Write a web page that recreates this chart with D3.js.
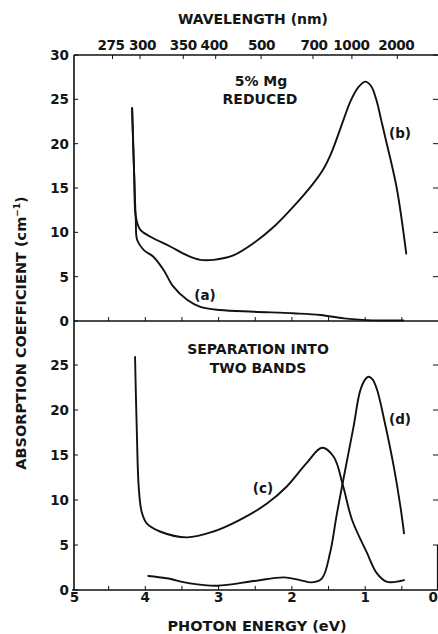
<!DOCTYPE html>
<html><head><meta charset="utf-8">
<script src="https://cdn.jsdelivr.net/npm/d3@7"></script>
<style>
html,body{margin:0;padding:0;background:#fff;}
svg text{font-family:"DejaVu Sans","Liberation Sans",Arial,sans-serif;font-weight:bold;fill:#151515;}
</style></head>
<body><svg id="c" width="438" height="634"></svg>
<script>
// ---- data (photon energy eV, absorption coefficient cm^-1) ----
const curveA_E = [4.18,4.15,4.13,4.11,4.02,3.89,3.75,3.62,3.43,3.25,2.98,2.52,1.98,1.61,1.29,0.98,0.48];
const curveA_V = [24.0,16.0,11.5,9.1,8.0,7.25,5.75,3.9,2.4,1.6,1.24,1.05,0.87,0.68,0.3,0.1,0.05];
const curveB_E = [4.18,4.15,4.13,4.07,3.93,3.66,3.43,3.25,3.07,2.80,2.52,2.25,1.98,1.71,1.58,1.46,1.30,1.20,1.10,1.00,0.92,0.85,0.78,0.72,0.57,0.44];
const curveB_V = [24.0,16.0,11.8,10.3,9.5,8.4,7.4,6.9,6.9,7.4,8.8,10.6,12.9,15.5,17.0,19.0,22.6,24.8,26.3,27.0,26.5,25.0,22.6,20.5,15.0,7.6];
const curveC_E = [4.14,4.115,4.09,4.05,3.98,3.80,3.43,3.07,2.71,2.34,2.07,1.80,1.59,1.43,1.30,1.18,0.98,0.84,0.70,0.52,0.47];
const curveC_V = [25.9,17.4,11.5,8.7,7.4,6.5,5.85,6.5,7.8,9.6,11.5,14.1,15.8,14.8,11.5,7.8,4.2,1.85,0.9,1.0,1.1];
const curveD_E = [3.96,3.71,3.39,3.02,2.52,2.11,1.89,1.73,1.59,1.48,1.39,1.30,1.16,1.07,1.00,0.955,0.90,0.84,0.73,0.61,0.52,0.47];
const curveD_V = [1.55,1.3,0.74,0.48,1.0,1.4,1.1,0.85,1.3,4.1,8.3,12.2,18.1,22.1,23.4,23.7,23.4,22.3,18.5,13.7,9.3,6.3];
const energyTicks = [5,4,3,2,1,0];
const wavelengthTicks = [275,300,350,400,500,700,1000,2000];
const topYTicks = [0,5,10,15,20,25,30];
const botYTicks = [0,5,10,15,20,25];

const svg = d3.select("#c");
const x = d3.scaleLinear().domain([5,0]).range([72,438.5]);
const xTop = d3.scaleLinear().domain([5,0]).range([76.5,442.7]); // top wavelength axis (slightly offset in original)
const yTop = d3.scaleLinear().domain([0,30]).range([321,55]);
const yBot = d3.scaleLinear().domain([0,30]).range([590,320]);
const hc = 1239.84;

const ink = "#111";
const g = svg.append("g");

// frame lines
g.append("line").attr("x1",74).attr("x2",74).attr("y1",yTop(30)).attr("y2",yBot(0)).attr("stroke",ink).attr("stroke-width",1.6);
g.append("line").attr("x1",74).attr("x2",438).attr("y1",yTop(30)).attr("y2",yTop(30)).attr("stroke",ink).attr("stroke-width",1.6);
g.append("line").attr("x1",74).attr("x2",438).attr("y1",yTop(0)).attr("y2",yTop(0)).attr("stroke",ink).attr("stroke-width",1.6);
g.append("line").attr("x1",72).attr("x2",438).attr("y1",yBot(0)).attr("y2",yBot(0)).attr("stroke",ink).attr("stroke-width",1.4);
g.append("line").attr("x1",437.5).attr("x2",437.5).attr("y1",yBot(5)).attr("y2",yBot(0)).attr("stroke",ink).attr("stroke-width",1.2);

// energy ticks (every 0.5 eV) on middle and bottom lines, pointing up
const halfTicks = d3.range(0.5,5,0.5);
[yTop(0), yBot(0)].forEach(yy=>{
  g.selectAll(null).data(halfTicks).enter().append("line")
    .attr("x1",d=>x(d)).attr("x2",d=>x(d)).attr("y1",yy).attr("y2",yy-4)
    .attr("stroke",ink).attr("stroke-width",1);
});
// bottom energy labels
g.selectAll(null).data(energyTicks).enter().append("text")
  .attr("x",d=>d===0 ? 438 : (d===5 ? x(d)+2.5 : x(d))).attr("y",602)
  .attr("text-anchor",d=>d===0 ? "end" : "middle")
  .attr("font-size",13.5).text(d=>d);

// top wavelength axis
const wlShift = {275:-1.5,300:2.5,350:0,400:-1.5,500:0.5,700:1,1000:-0.5,2000:-1};
g.selectAll(null).data(wavelengthTicks).enter().append("line")
  .attr("x1",d=>xTop(hc/d)).attr("x2",d=>xTop(hc/d)).attr("y1",yTop(30)).attr("y2",yTop(30)+4)
  .attr("stroke",ink).attr("stroke-width",1);
g.selectAll(null).data(wavelengthTicks).enter().append("text")
  .attr("x",d=>xTop(hc/d)+wlShift[d]).attr("y",50).attr("text-anchor","middle")
  .attr("font-size",13.6).attr("letter-spacing",-0.4).text(d=>d);

// y axes
function yAxis(scale, ticks){
  g.selectAll(null).data(ticks).enter().append("line")
    .attr("x1",74).attr("x2",78).attr("y1",d=>scale(d)).attr("y2",d=>scale(d))
    .attr("stroke",ink).attr("stroke-width",1);
  g.selectAll(null).data(ticks.filter(d=>d>0)).enter().append("line")
    .attr("x1",433).attr("x2",438).attr("y1",d=>scale(d)).attr("y2",d=>scale(d))
    .attr("stroke",ink).attr("stroke-width",1);
  g.selectAll(null).data(ticks).enter().append("text")
    .attr("x",69).attr("y",d=>scale(d)+5).attr("text-anchor","end")
    .attr("font-size",13.5).text(d=>d);
}
yAxis(yTop, topYTicks);
yAxis(yBot, botYTicks);

// curves
function drawCurve(E, V, ys){
  const pts = E.map((e,i)=>[x(e), ys(V[i])]);
  g.append("path").attr("d", d3.line().curve(d3.curveCatmullRom.alpha(0.5))(pts))
    .attr("fill","none").attr("stroke",ink).attr("stroke-width",1.9)
    .attr("stroke-linejoin","round").attr("stroke-linecap","round");
}
drawCurve(curveA_E, curveA_V, yTop);
drawCurve(curveB_E, curveB_V, yTop);
drawCurve(curveC_E, curveC_V, yBot);
drawCurve(curveD_E, curveD_V, yBot);

// annotations
function txt(t, xx, yy, size, anchor){
  g.append("text").attr("x",xx).attr("y",yy).attr("text-anchor",anchor||"middle")
   .attr("font-size",size).text(t);
}
txt("(a)", 205, 300, 13.5);
txt("(b)", 400, 138, 13.5);
txt("(c)", 263, 493, 13.5);
txt("(d)", 400, 424, 13.5);
txt("5% Mg", 261, 86, 14);
txt("REDUCED", 260, 104, 14);
txt("SEPARATION INTO", 258, 354, 14);
txt("TWO BANDS", 258, 373, 14);
txt("WAVELENGTH (nm)", 253, 24, 14);
txt("PHOTON ENERGY (eV)", 257, 631, 14.5);

const yl = g.append("text").attr("transform","translate(26,333) rotate(-90)")
  .attr("text-anchor","middle").attr("font-size",14.5);
yl.append("tspan").text("ABSORPTION COEFFICIENT (cm");
yl.append("tspan").attr("font-size",9).attr("dy",-6).text("−1");
yl.append("tspan").attr("dy",6).text(")");
</script></body></html>
